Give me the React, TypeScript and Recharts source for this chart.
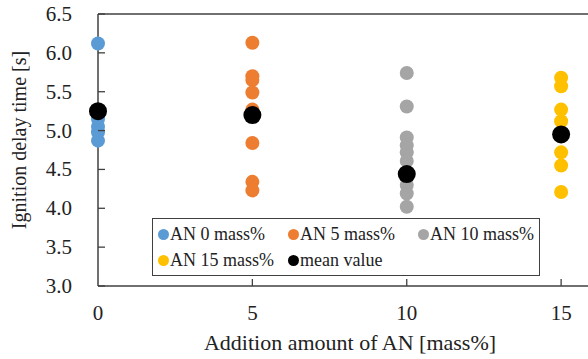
import React from 'react';
import { ScatterChart, Scatter, XAxis, YAxis, ReferenceLine, Legend, Label } from 'recharts';

const an0 = [6.12, 5.25, 5.15, 5.05, 4.98, 4.87];
const an5 = [6.13, 5.7, 5.65, 5.49, 5.27, 4.84, 4.34, 4.23];
const an10 = [5.74, 5.31, 4.91, 4.81, 4.72, 4.61, 4.3, 4.19, 4.02];
const an15 = [5.68, 5.57, 5.27, 5.12, 4.72, 4.55, 4.21];
const meanX = [0, 5, 10, 15];
const meanY = [5.25, 5.2, 4.44, 4.95];
const xTicks = [0, 5, 10, 15];
const yTicks = [3.0, 3.5, 4.0, 4.5, 5.0, 5.5, 6.0, 6.5];

const toPoints = (x: number, ys: number[]) => ys.map((y) => ({ x, y }));

const series = [
  { name: 'AN 0 mass%', color: '#5B9BD5', data: toPoints(0, an0), r: 7 },
  { name: 'AN 5 mass%', color: '#ED7D31', data: toPoints(5, an5), r: 7 },
  { name: 'AN 10 mass%', color: '#A5A5A5', data: toPoints(10, an10), r: 7 },
  { name: 'AN 15 mass%', color: '#FFC000', data: toPoints(15, an15), r: 7 },
  { name: 'mean value', color: '#000000', data: meanX.map((x, i) => ({ x, y: meanY[i] })), r: 9 },
];

const FONT = "'Liberation Serif', 'Times New Roman', Times, serif";
const AXIS = '#404040';
const AXIS_X = 98;
const AXIS_Y = 286;
const txt = { fontFamily: FONT };

const YTick = (props: any) => {
  const { y, payload } = props;
  return (
    <g>
      <line x1={AXIS_X} x2={AXIS_X + 7} y1={y} y2={y} stroke={AXIS} strokeWidth={1.3} />
      <text x={AXIS_X - 26} y={y} dy={7} textAnchor="end" fontSize={21} style={txt} fill="#222">
        {payload.value.toFixed(1)}
      </text>
    </g>
  );
};

const XTick = (props: any) => {
  const { x, payload } = props;
  return (
    <g>
      {payload.value !== 0 && (
        <line x1={x} x2={x} y1={AXIS_Y} y2={AXIS_Y - 7} stroke={AXIS} strokeWidth={1.3} />
      )}
      <text x={x} y={320} textAnchor="middle" fontSize={21} style={txt} fill="#222">
        {payload.value}
      </text>
    </g>
  );
};

const LegendBox = () => (
  <div
    style={{
      border: '1.5px solid #404040',
      background: '#fff',
      padding: '3px 0 3px 5px',
      display: 'grid',
      gridTemplateColumns: '130px 130px 130px',
      rowGap: 2,
      fontFamily: FONT,
      fontSize: 18,
      color: '#222',
      lineHeight: '24px',
    }}
  >
    {series.map((s) => (
      <div key={s.name} style={{ display: 'flex', alignItems: 'center', whiteSpace: 'nowrap' }}>
        <span
          style={{
            display: 'inline-block',
            width: 11,
            height: 11,
            borderRadius: '50%',
            background: s.color,
            marginRight: 1,
          }}
        />
        {s.name}
      </div>
    ))}
  </div>
);

const dot = (r: number, color: string) => (props: any) =>
  <circle cx={props.cx} cy={props.cy} r={r} fill={color} />;

export default function App() {
  return (
    <div style={{ position: 'fixed', left: 0, top: 0, width: 588, height: 359, overflow: 'hidden', background: '#fff' }}>
      <ScatterChart width={600} height={359} margin={{ top: 14, right: 8, bottom: 13, left: 0 }}>
        <XAxis
          type="number"
          dataKey="x"
          domain={[0, 16]}
          ticks={xTicks}
          tick={<XTick />}
          tickLine={false}
          height={60}
          axisLine={{ stroke: AXIS, strokeWidth: 1.5 }}
        >
          <Label
            content={() => (
              <text x={350} y={350} textAnchor="middle" fontSize={22} style={txt} fill="#222">
                Addition amount of AN [mass%]
              </text>
            )}
          />
        </XAxis>
        <YAxis
          type="number"
          dataKey="y"
          domain={[3, 6.5]}
          ticks={yTicks}
          tick={<YTick />}
          tickLine={false}
          width={98}
          axisLine={{ stroke: AXIS, strokeWidth: 1.5 }}
        >
          <Label
            content={() => (
              <text
                x={26}
                y={140}
                transform="rotate(-90 26 140)"
                textAnchor="middle"
                fontSize={20}
                style={txt}
                fill="#222"
              >
                Ignition delay time [s]
              </text>
            )}
          />
        </YAxis>
        <ReferenceLine y={6.5} stroke={AXIS} strokeWidth={1.5} />
        {series.map((s) => (
          <Scatter
            key={s.name}
            name={s.name}
            data={s.data}
            fill={s.color}
            shape={dot(s.r, s.color)}
            isAnimationActive={false}
          />
        ))}
        <Legend
          layout="horizontal"
          verticalAlign="middle"
          align="center"
          content={<LegendBox />}
          wrapperStyle={{ position: 'absolute', left: 152, top: 218, width: 388, height: 'auto' }}
        />
      </ScatterChart>
    </div>
  );
}
